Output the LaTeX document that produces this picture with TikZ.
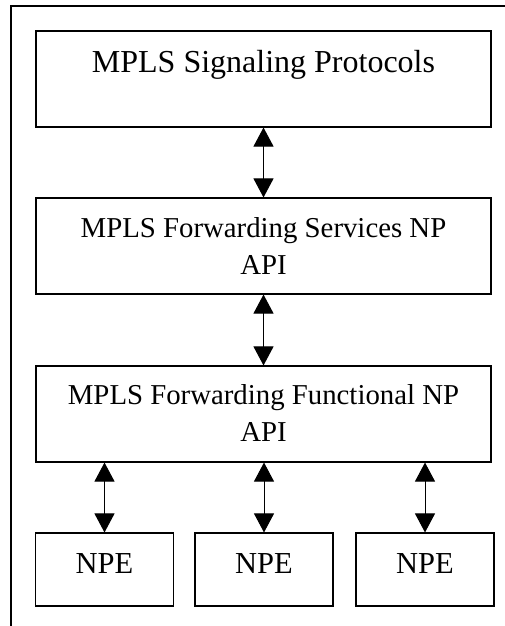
\documentclass[tikz,border=0pt]{standalone}
\usepackage{fontspec}
\setmainfont{Liberation Serif}
\usetikzlibrary{arrows.meta}
\definecolor{StackInk}{HTML}{000000}

\begin{document}
\begin{tikzpicture}[x=1pt,y=-1pt,
    layer/.style={draw=StackInk,line width=1.1pt,minimum width=455pt,minimum height=96pt,inner sep=0pt},
    engine/.style={draw=StackInk,line width=1.1pt,minimum width=138pt,minimum height=73pt,inner sep=0pt},
    caption/.style={text=StackInk,inner sep=0pt,anchor=north,align=center,font=\fontsize{28.8}{37}\selectfont},
    link/.style={draw=StackInk,line width=1pt,{Triangle[length=19pt,width=20pt]}-{Triangle[length=19pt,width=20pt]}}]
  \useasboundingbox (0,0) rectangle (505,626);
  % open frame round the stack
  \draw[StackInk,line width=1.3pt] (11,626) -- (11,6) -- (505,6);

  % the three software layers
  \node[layer] (sig) at (263.5,79) {};
  \node[layer] (svc) at (263.5,246) {};
  \node[layer] (fun) at (263.5,414) {};
  \node[caption,font=\fontsize{32}{37}\selectfont] (sigtext) at (263.5,50) {MPLS Signaling Protocols};
  \node[caption] (svctext) at (263.5,217.5) {MPLS Forwarding Services NP\\API};
  \node[caption] (funtext) at (263.5,384.5) {MPLS Forwarding Functional NP\\API};

  % network processing engines
  \node[engine] (npea) at (104.5,569.5) {};
  \node[engine] (npeb) at (264,569.5) {};
  \node[engine] (npec) at (425,569.5) {};
  \node[caption,font=\fontsize{30.5}{37}\selectfont] (npeatext) at (104.5,553) {NPE};
  \node[caption,font=\fontsize{30.5}{37}\selectfont] (npebtext) at (264,553) {NPE};
  \node[caption,font=\fontsize{30.5}{37}\selectfont] (npectext) at (425,553) {NPE};

  \draw[link] (sig) -- (svc);
  \draw[link] (svc) -- (fun);
  \foreach \e in {npea,npeb,npec}
    \draw[link] (\e.north |- fun.south) -- (\e.north);
\end{tikzpicture}
\end{document}
